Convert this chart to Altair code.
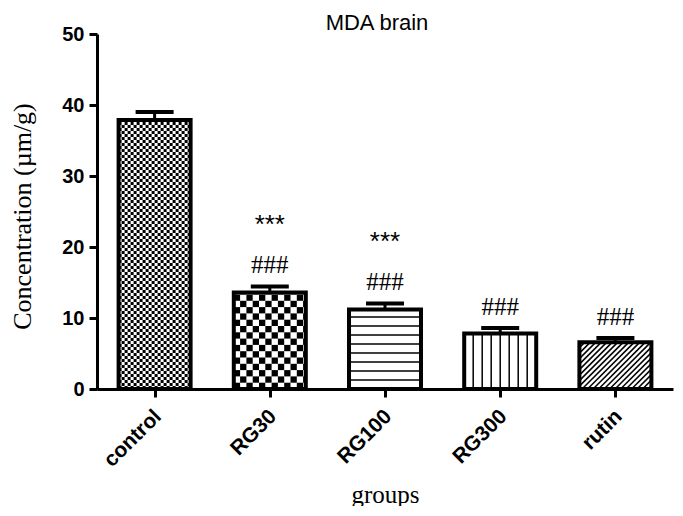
import json
import altair as alt
import pandas as pd

# ---- data ----
groups = ["control", "RG30", "RG100", "RG300", "rutin"]
means = [37.9, 13.6, 11.2, 7.8, 6.6]
sems = [1.1, 0.85, 0.85, 0.8, 0.6]
stars = ["", "***", "***", "", ""]
hashes = ["", "###", "###", "###", "###"]
y_ticks = [0, 10, 20, 30, 40, 50]

# ---- layout / style ----
W, H = 576, 355
XMAX, YMAX = len(groups), 50
PX = W / XMAX          # pixels per x unit
PY = H / YMAX          # pixels per y unit
BAR_HALF_PX = 36
CAP_HALF_PX = 19
pattern_of = {"control": ("checker", 3.0), "RG30": ("checker", 6.3),
              "RG100": ("hlines", 9.0), "RG300": ("vlines", 9.0),
              "rutin": ("diag", 5.5)}

centers = [i + 0.5 for i in range(len(groups))]

bars_df = pd.DataFrame({
    "x": [c - BAR_HALF_PX / PX for c in centers],
    "x2": [c + BAR_HALF_PX / PX for c in centers],
    "y": means, "y2": [0.0] * len(means)})
err_df = pd.DataFrame({"x": centers, "y": means,
                       "y2": [m + s for m, s in zip(means, sems)]})
cap_df = pd.DataFrame({
    "x": [c - CAP_HALF_PX / PX for c in centers],
    "x2": [c + CAP_HALF_PX / PX for c in centers],
    "y": [m + s for m, s in zip(means, sems)]})
txt_df = pd.DataFrame({"x": centers, "y": [m + s for m, s in zip(means, sems)],
                       "stars": stars, "hashes": hashes})

# ---- texture geometry (derived from the bars) ----
rects, lines = [], []
for g, c, m in zip(groups, centers, means):
    kind, s = pattern_of[g]
    L = c * PX - BAR_HALF_PX
    R = c * PX + BAR_HALF_PX
    T = m * PY
    if kind == "checker":
        j = 0
        while j * s < T:
            i = 0
            while L + i * s < R:
                if (i + j) % 2 == 0:
                    rects.append({"x": (L + i * s) / PX, "x2": min(L + (i + 1) * s, R) / PX,
                                  "y": (j * s) / PY, "y2": min((j + 1) * s, T) / PY})
                i += 1
            j += 1
    elif kind == "hlines":
        k = 1
        while k * s < T - 3:
            lines.append({"x": L / PX, "x2": R / PX, "y": k * s / PY, "y2": k * s / PY})
            k += 1
    elif kind == "vlines":
        for k in range(-3, 4):
            xx = c * PX + k * s
            lines.append({"x": xx / PX, "x2": xx / PX, "y": 0.0, "y2": T / PY})
    elif kind == "diag":
        cc = L - T
        while cc < R:
            y0 = max(0.0, L - cc)
            y1 = min(T, R - cc)
            if y1 > y0:
                lines.append({"x": (y0 + cc) / PX, "x2": (y1 + cc) / PX,
                              "y": y0 / PY, "y2": y1 / PY})
            cc += s
rect_df = pd.DataFrame(rects)
line_df = pd.DataFrame(lines)

SANS = "Liberation Sans"
SERIF = "Liberation Serif"

label_expr = json.dumps(groups) + "[floor(datum.value)]"
xaxis = alt.Axis(values=centers, labelExpr=label_expr, title="groups",
                 grid=False, domainWidth=3, domainColor="black",
                 tickSize=8, tickWidth=3, tickColor="black",
                 labelAngle=-45, labelAlign="right", labelBaseline="middle",
                 labelPadding=16, labelOffset=3, labelFont=SANS, labelFontWeight="bold",
                 labelFontSize=21, labelColor="black", labelFlush=False,
                 labelOverlap=False,
                 titleFont=SERIF, titleFontSize=25, titleFontWeight="normal",
                 titleColor="black", titleY=113, titleBaseline="alphabetic")
yaxis = alt.Axis(values=y_ticks, title="Concentration (µm/g)", grid=False,
                 domainWidth=3, domainColor="black", tickSize=8, tickWidth=3,
                 tickColor="black", labelFont=SANS, labelFontWeight="bold",
                 labelFontSize=20, labelColor="black", labelPadding=5,
                 titleFont=SERIF, titleFontSize=26, titleFontWeight="normal",
                 titleColor="black", titleAngle=270, titleX=-67, titleY=182,
                 titleAlign="center", titleBaseline="alphabetic")
xs = alt.Scale(domain=[0, XMAX], nice=False, zero=False)
ys = alt.Scale(domain=[0, YMAX], nice=False)

def X():
    return alt.X("x:Q", scale=xs, axis=xaxis)

def Y():
    return alt.Y("y:Q", scale=ys, axis=yaxis)

bg = alt.Chart(bars_df).mark_rect(fill="white").encode(x=X(), x2="x2:Q", y=Y(), y2="y2:Q")
tex_r = alt.Chart(rect_df).mark_rect(fill="black").encode(x=X(), x2="x2:Q", y=Y(), y2="y2:Q")
tex_l = alt.Chart(line_df).mark_rule(color="black", strokeWidth=1.5).encode(
    x=X(), x2="x2:Q", y=Y(), y2="y2:Q")
outline = alt.Chart(bars_df).mark_rect(fill="white", fillOpacity=0, stroke="black",
                                       strokeWidth=4).encode(x=X(), x2="x2:Q", y=Y(), y2="y2:Q")
err = alt.Chart(err_df).mark_rule(color="black", strokeWidth=3).encode(x=X(), y=Y(), y2="y2:Q")
cap = alt.Chart(cap_df).mark_rule(color="black", strokeWidth=4).encode(x=X(), x2="x2:Q", y=Y())
t_hash = alt.Chart(txt_df).mark_text(font=SERIF, fontSize=25, color="black",
                                     baseline="middle", dy=-21).encode(x=X(), y=Y(), text="hashes:N")
t_star = alt.Chart(txt_df).mark_text(font=SANS, fontSize=26, color="black",
                                     baseline="middle", dy=-61).encode(x=X(), y=Y(), text="stars:N")

chart = alt.layer(bg, tex_r, tex_l, outline, err, cap, t_hash, t_star).properties(
    width=W, height=H,
    title=alt.TitleParams("MDA brain", font=SANS, fontSize=22, fontWeight="normal",
                          color="black", anchor="middle", frame="group", offset=7,
                          dx=-8, dy=18),
    autosize=alt.AutoSizeParams(type="none"),
    padding={"left": 89, "top": 26, "right": 2, "bottom": 117},
    background="white",
).configure_view(stroke=None)

chart.save("out.html", embed_options={"renderer": "svg", "actions": False})
